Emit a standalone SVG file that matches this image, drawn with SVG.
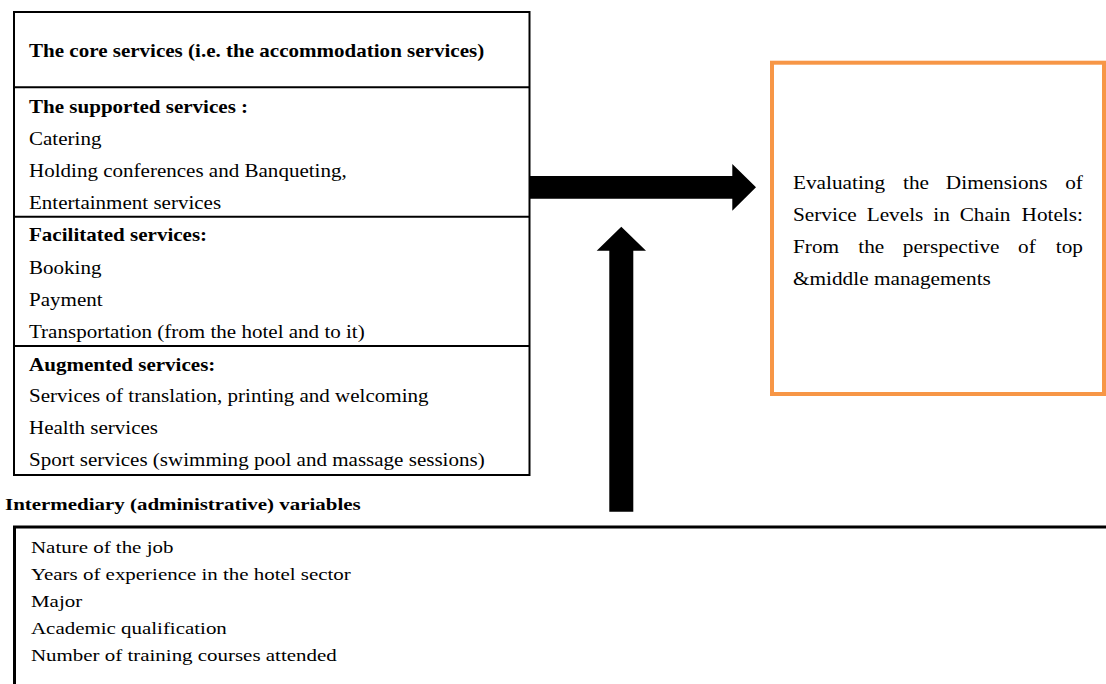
<svg xmlns="http://www.w3.org/2000/svg" width="1106" height="684" viewBox="0 0 1106 684">
  <style>
    .t { font-family: "Liberation Serif", "Times New Roman", serif; fill: #000; }
    .b { font-weight: bold; }
    .box { fill: #fff; stroke: #000; stroke-width: 2; }
    .div { stroke: #000; stroke-width: 2; }
    .arrow { fill: #000; }
  </style>

  <!-- Service categories -->
  <g id="services">
    <rect class="box" x="14" y="12" width="515.5" height="463"/>
    <line class="div" x1="14" y1="87.3" x2="529.5" y2="87.3"/>
    <line class="div" x1="14" y1="216.7" x2="529.5" y2="216.7"/>
    <line class="div" x1="14" y1="346" x2="529.5" y2="346"/>
    <g class="t" font-size="18.8" transform="translate(29,0) scale(1.12,1)">
      <text class="b" x="0" y="57.3">The core services (i.e. the accommodation services)</text>
      <text class="b" x="0" y="113">The supported services :</text>
      <text x="0" y="145">Catering</text>
      <text x="0" y="177">Holding conferences and Banqueting,</text>
      <text x="0" y="209">Entertainment services</text>
      <text class="b" x="0" y="241">Facilitated services:</text>
      <text x="0" y="274">Booking</text>
      <text x="0" y="306">Payment</text>
      <text x="0" y="338">Transportation (from the hotel and to it)</text>
      <text class="b" x="0" y="371">Augmented services:</text>
      <text x="0" y="402.5">Services of translation, printing and welcoming</text>
      <text x="0" y="434.5">Health services</text>
      <text x="0" y="466.5">Sport services (swimming pool and massage sessions)</text>
    </g>
  </g>

  <!-- Outcome -->
  <g id="outcome">
    <rect x="772" y="62.7" width="332" height="331.3" fill="#fff" stroke="#F79646" stroke-width="4"/>
    <g class="t" font-size="19" transform="translate(793,0) scale(1.12,1)">
      <text x="0" y="189.3">Evaluating</text>
      <text x="98.2" y="189.3">the</text>
      <text x="136.5" y="189.3">Dimensions</text>
      <text x="258.9" y="189.3" text-anchor="end">of</text>
      <text x="0" y="221.5">Service</text>
      <text x="65.8" y="221.5">Levels</text>
      <text x="125.3" y="221.5">in</text>
      <text x="148.8" y="221.5">Chain</text>
      <text x="258.9" y="221.5" text-anchor="end">Hotels:</text>
      <text x="0" y="253.3">From</text>
      <text x="58.3" y="253.3">the</text>
      <text x="98" y="253.3">perspective</text>
      <text x="201" y="253.3">of</text>
      <text x="258.9" y="253.3" text-anchor="end">top</text>
      <text x="0" y="285.3">&amp;middle managements</text>
    </g>
  </g>

  <!-- Intermediary variables -->
  <g id="intermediary">
    <rect x="14.5" y="527" width="1200" height="300" fill="#fff" stroke="#000" stroke-width="3"/>
    <g class="t" font-size="17.6" transform="translate(5,0) scale(1.19,1)">
      <text class="b" x="0" y="510">Intermediary (administrative) variables</text>
    </g>
    <g class="t" font-size="17.6" transform="translate(31,0) scale(1.19,1)">
      <text x="0" y="553.5">Nature of the job</text>
      <text x="0" y="580.5">Years of experience in the hotel sector</text>
      <text x="0" y="607.3">Major</text>
      <text x="0" y="634">Academic qualification</text>
      <text x="0" y="661">Number of training courses attended</text>
    </g>
  </g>

  <!-- Connectors -->
  <g id="connectors">
    <polygon class="arrow" points="530,176 732.3,176 732.3,164 756,187.3 732.3,210.7 732.3,198.7 530,198.7"/>
    <polygon class="arrow" points="609.3,511.7 609.3,250.7 596.7,250.7 621.3,226.7 646,250.7 633.3,250.7 633.3,511.7"/>
  </g>
</svg>
